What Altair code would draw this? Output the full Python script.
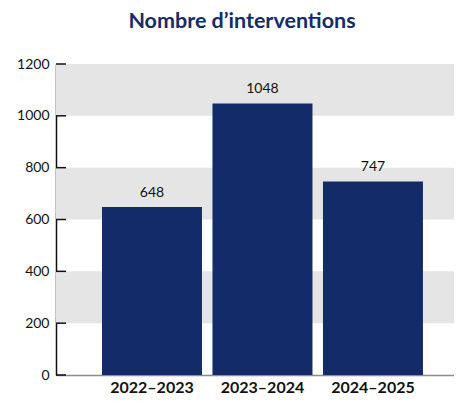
import altair as alt
import pandas as pd

periods = ["2022–2023", "2023–2024", "2024–2025"]
values = [648, 1048, 747]
band_starts = [200, 600, 1000]
band_ends = [400, 800, 1200]
tick_values = [0, 200, 400, 600, 800, 1000, 1200]

NAVY = "#132c69"
FONT = "Lato"
W = 398
H = 311

df = pd.DataFrame({"period": periods, "value": values})
bands = pd.DataFrame({"y0": band_starts, "y1": band_ends})
ticks = pd.DataFrame({"t": tick_values})

yscale = alt.Scale(domain=[0, 1200], nice=False)
xscale = alt.Scale(paddingInner=0.095, paddingOuter=0.3485, align=0.597)
yaxis = alt.Axis(title=None, values=tick_values, ticks=False, domainColor="#111111",
                 domainWidth=1.5, labelFont=FONT, labelFontSize=14, format="d",
                 labelColor="#111111", labelPadding=7, grid=False)

band_layer = alt.Chart(bands).mark_rect(color="#e5e5e5").encode(
    y=alt.Y("y0:Q", scale=yscale, axis=yaxis),
    y2="y1:Q",
    x=alt.value(0),
    x2=alt.value(W),
)

bars = alt.Chart(df).mark_bar(color=NAVY).encode(
    x=alt.X("period:N", scale=xscale, sort=periods,
            axis=alt.Axis(title=None, labelAngle=0, ticks=False, domainColor="#8c8c8c",
                          domainWidth=1.5, labelFont=FONT, labelFontWeight="bold",
                          labelFontSize=16, labelColor="#111111", labelPadding=4)),
    y=alt.Y("value:Q", scale=yscale, axis=yaxis),
)

labels = alt.Chart(df).mark_text(font=FONT, fontSize=14, color="#111111", dy=-14).encode(
    x=alt.X("period:N", scale=xscale, sort=periods),
    y=alt.Y("value:Q", scale=yscale),
    text="value:Q",
)

tick_layer = alt.Chart(ticks).mark_rule(color="#111111", strokeWidth=1.5).encode(
    y=alt.Y("t:Q", scale=yscale),
    x=alt.value(0),
    x2=alt.value(10),
)

chart = alt.layer(band_layer, bars, labels, tick_layer).properties(
    width=W,
    height=H,
    title=alt.TitleParams("Nombre d’interventions", font=FONT, fontSize=21.5,
                          fontWeight="bold", color=NAVY, offset=25, anchor="middle", dx=-13),
    autosize=alt.AutoSizeParams(type="none"),
    padding={"left": 48, "top": 56, "right": 0, "bottom": 23},
).configure_view(stroke=None)

chart.save("out.html", embed_options={"renderer": "svg", "actions": False})
